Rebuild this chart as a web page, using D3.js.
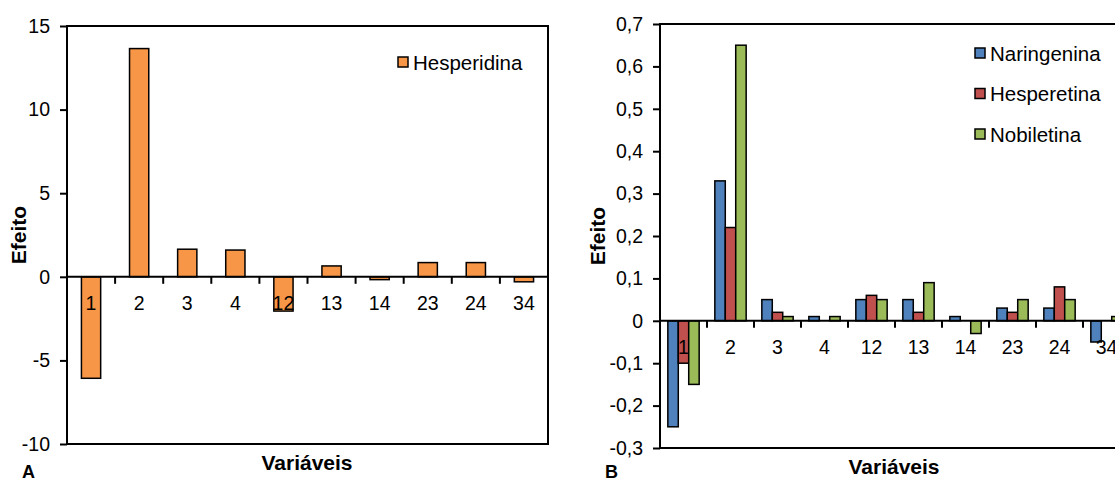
<!DOCTYPE html>
<html>
<head>
<meta charset="utf-8">
<script src="https://cdn.jsdelivr.net/npm/d3@7"></script>
<style>
  body { margin: 0; background: #fff; }
  svg { font-family: "Liberation Sans", Arial, sans-serif; }
</style>
</head>
<body>
<div id="chart-area"></div>
<script>
// categories (variables) shared by both panels
const categories = ["1", "2", "3", "4", "12", "13", "14", "23", "24", "34"];

// panel A
const hesperidina = [-6.07, 13.65, 1.65, 1.6, -2.05, 0.65, -0.17, 0.85, 0.85, -0.3];
const ticksA = [-10, -5, 0, 5, 10, 15];

// panel B
const naringenina = [-0.25, 0.33, 0.05, 0.01, 0.05, 0.05, 0.01, 0.03, 0.03, -0.05];
const hesperetina = [-0.1, 0.22, 0.02, 0, 0.06, 0.02, 0, 0.02, 0.08, 0];
const nobiletina = [-0.15, 0.65, 0.01, 0.01, 0.05, 0.09, -0.03, 0.05, 0.05, 0.01];
const ticksB = [-0.3, -0.2, -0.1, 0, 0.1, 0.2, 0.3, 0.4, 0.5, 0.6, 0.7];

const svg = d3.select("#chart-area")
  .append("svg")
    .attr("width", 1115)
    .attr("height", 481);

function drawPanel(opts) {
  const { left, top, width, height, domain, ticks, series, fmt, legend, letter, letterX, closeRight } = opts;

  const g = svg.append("g")
    .attr("transform", "translate(" + left + "," + top + ")");

  const x = d3.scaleBand()
    .domain(categories)
    .range([0, width]);

  // gap width 150% like the original spreadsheet chart
  const xInner = d3.scaleBand()
    .domain(series.map(s => s.name))
    .range([0, x.bandwidth()])
    .paddingOuter(0.75);

  const y = d3.scaleLinear()
    .domain(domain)
    .range([height, 0]);

  // frame (panel B runs off the right edge)
  const frame = closeRight
    ? "M0,0H" + width + "V" + height + "H0Z"
    : "M" + (width + 20) + ",0H0V" + height + "H" + (width + 20);
  g.append("path")
    .attr("d", frame)
    .attr("fill", "none")
    .attr("stroke", "#000")
    .attr("stroke-width", 2);

  // y axis
  const yAxis = g.append("g")
    .call(d3.axisLeft(y).tickValues(ticks).tickSize(7).tickPadding(10).tickFormat(fmt));
  yAxis.select(".domain").remove();
  yAxis.selectAll(".tick line").attr("stroke", "#000").attr("stroke-width", 2);
  yAxis.selectAll("text")
    .attr("fill", "#000")
    .style("font-size", "19.5px")
    .style("font-family", "Liberation Sans, Arial, sans-serif");

  // bars
  series.forEach(s => {
    g.append("g").selectAll("rect")
      .data(s.values)
      .enter()
      .append("rect")
        .attr("x", (d, i) => x(categories[i]) + xInner(s.name))
        .attr("y", d => y(Math.max(0, d)))
        .attr("width", xInner.bandwidth())
        .attr("height", d => Math.abs(y(d) - y(0)))
        .attr("fill", s.color)
        .attr("stroke", "#000")
        .attr("stroke-width", 1.5);
  });

  // zero axis with boundary ticks
  g.append("line")
    .attr("x1", 0).attr("x2", closeRight ? width : width + 20)
    .attr("y1", y(0)).attr("y2", y(0))
    .attr("stroke", "#000").attr("stroke-width", 2);

  g.selectAll(".bound")
    .data(categories.slice(1))
    .enter()
    .append("line")
      .attr("x1", d => x(d)).attr("x2", d => x(d))
      .attr("y1", y(0)).attr("y2", y(0) + 7)
      .attr("stroke", "#000").attr("stroke-width", 2);

  g.selectAll(".cat")
    .data(categories)
    .enter()
    .append("text")
      .attr("x", d => x(d) + x.bandwidth() / 2)
      .attr("y", y(0) + 33)
      .attr("text-anchor", "middle")
      .style("font-size", "19.5px")
      .text(d => d);

  // axis titles
  g.append("text")
    .attr("transform", "translate(" + opts.yTitleX + "," + (height / 2) + ") rotate(-90)")
    .attr("text-anchor", "middle")
    .attr("dominant-baseline", "central")
    .style("font-size", "21px")
    .style("font-weight", "bold")
    .text("Efeito");

  g.append("text")
    .attr("x", opts.xTitleX)
    .attr("y", height + 26)
    .attr("text-anchor", "middle")
    .style("font-size", "21px")
    .style("font-weight", "bold")
    .text("Variáveis");

  svg.append("text")
    .attr("x", letterX)
    .attr("y", 478)
    .style("font-size", "18px")
    .style("font-weight", "bold")
    .text(letter);

  // legend
  const lg = g.append("g")
    .attr("transform", "translate(" + legend.x + "," + legend.y + ")");
  series.forEach((s, i) => {
    const row = lg.append("g").attr("transform", "translate(0," + i * legend.step + ")");
    row.append("rect")
      .attr("x", 0).attr("y", -5)
      .attr("width", 10).attr("height", 10)
      .attr("fill", s.color)
      .attr("stroke", "#000")
      .attr("stroke-width", 1.5);
    row.append("text")
      .attr("x", 15)
      .attr("y", 0)
      .attr("dominant-baseline", "central")
      .style("font-size", "20.5px")
      .text(s.name);
  });
}

const hyphen = s => s.replace("\u2212", "-");

drawPanel({
  left: 67, top: 26, width: 481, height: 418,
  domain: [-10, 15], ticks: ticksA,
  fmt: d => hyphen(d3.format("d")(d)),
  series: [{ name: "Hesperidina", values: hesperidina, color: "#F79646" }],
  legend: { x: 331, y: 36, step: 40 },
  yTitleX: -49, xTitleX: 240,
  letter: "A", letterX: 22,
  closeRight: true
});

drawPanel({
  left: 660, top: 24, width: 470, height: 424,
  domain: [-0.3, 0.7], ticks: ticksB,
  fmt: d => d === 0 ? "0" : hyphen(d3.format(".1f")(d)).replace(".", ","),
  series: [
    { name: "Naringenina", values: naringenina, color: "#4F81BD" },
    { name: "Hesperetina", values: hesperetina, color: "#C0504D" },
    { name: "Nobiletina", values: nobiletina, color: "#9BBB59" }
  ],
  legend: { x: 315, y: 29, step: 40.5 },
  yTitleX: -63, xTitleX: 234,
  letter: "B", letterX: 605,
  closeRight: false
});
</script>
</body>
</html>
